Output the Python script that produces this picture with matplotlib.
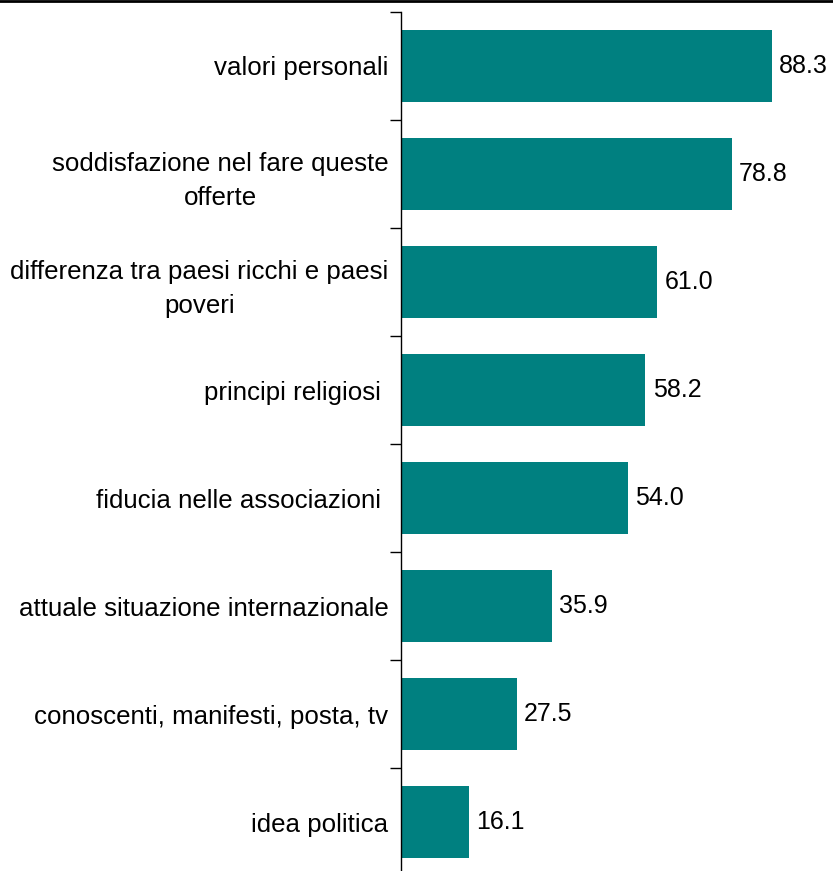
import matplotlib
matplotlib.use('Agg')
import matplotlib.pyplot as plt
from matplotlib.lines import Line2D

labels = ['valori personali',
          'soddisfazione nel fare queste\nofferte',
          'differenza tra paesi ricchi e paesi\npoveri',
          'principi religiosi ',
          'fiducia nelle associazioni ',
          'attuale situazione internazionale',
          'conoscenti, manifesti, posta, tv',
          'idea politica']
values = [88.3, 78.8, 61.0, 58.2, 54.0, 35.9, 27.5, 16.1]

plt.rcParams['font.family'] = ['Liberation Sans', 'DejaVu Sans']

fig = plt.figure(figsize=(8.33, 8.71), dpi=100)
ax = fig.add_axes([401/833, -5/871, 420/833, 864/871])

n = len(values)
pos = list(range(n))
ax.barh(pos, values, height=0.66, color='#008080', edgecolor='none')
for y, v in zip(pos, values):
    ax.text(v + 1.7, y, '%.1f' % v, va='center', ha='left', fontsize=18)

ax.set_xlim(0, 100)
ax.set_ylim(n - 0.5, -0.5)
ax.set_xticks([])
ax.set_yticks(pos)
ax.set_yticklabels(labels, fontsize=18.6)
for t in ax.get_yticklabels():
    t.set_multialignment('center')
    t.set_linespacing(1.5)
ax.tick_params(axis='y', which='major', length=0, pad=9)
ax.set_yticks([i - 0.5 for i in range(n + 1)], minor=True)
ax.tick_params(axis='y', which='minor', length=8, width=1, direction='out')

for s in ['top', 'right', 'bottom']:
    ax.spines[s].set_visible(False)
ax.spines['left'].set_linewidth(1)

fig.add_artist(Line2D([0, 1], [1 - 1/871, 1 - 1/871], transform=fig.transFigure,
                      color='black', linewidth=2))

fig.savefig('out.png', dpi=100)
